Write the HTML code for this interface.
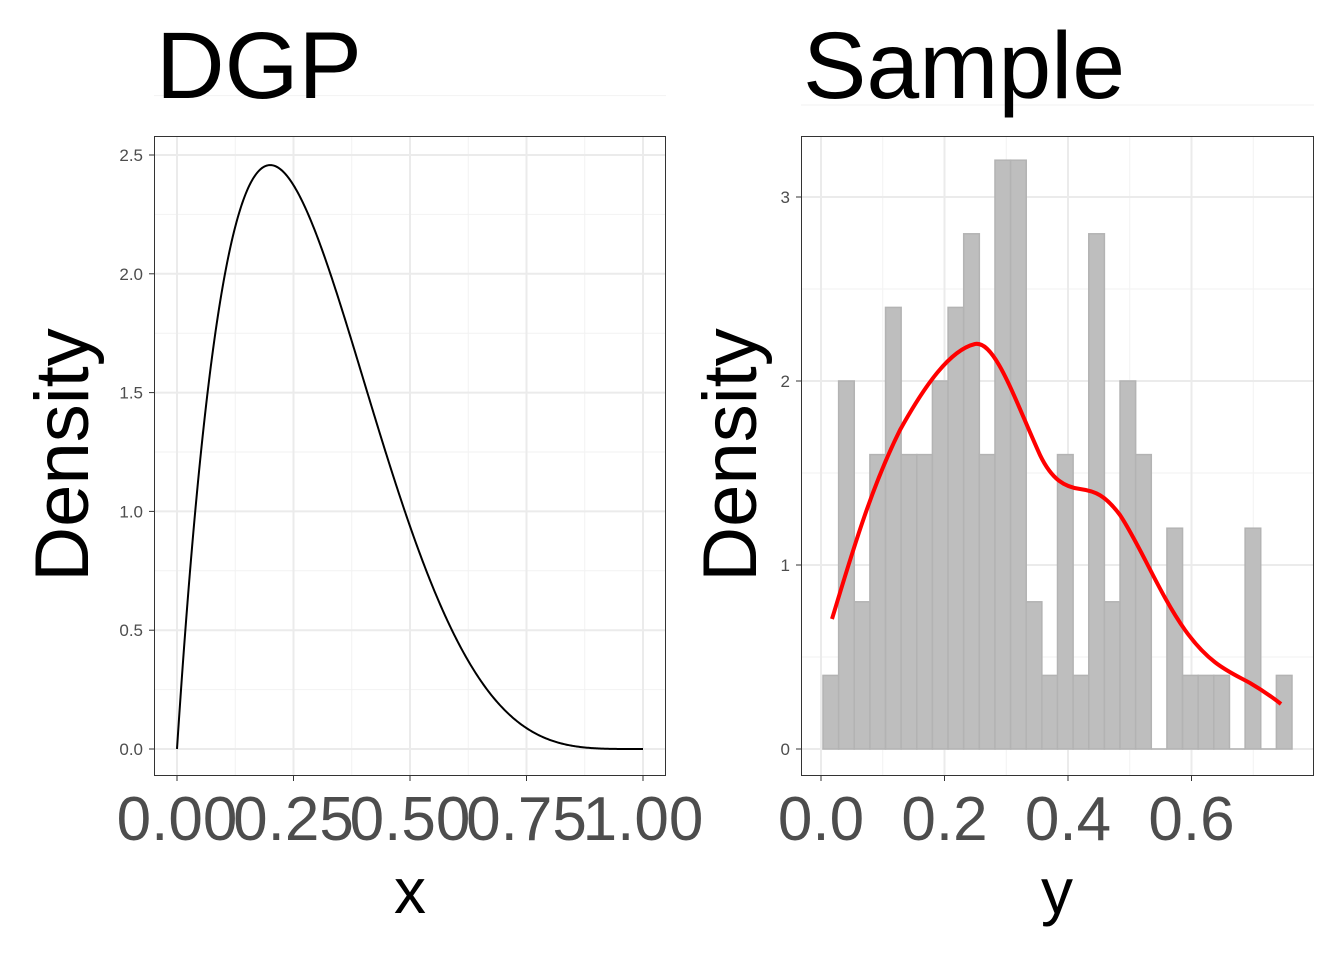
<!DOCTYPE html>
<html><head><meta charset="utf-8"><style>
body{margin:0;background:#fff}
svg text{font-family:"Liberation Sans",sans-serif}
</style></head><body>
<svg id="s" width="1344" height="960" xmlns="http://www.w3.org/2000/svg">
<rect width="1344" height="960" fill="#fff"/>
<g id="g"></g>
<text x="156" y="98" font-size="95">DGP</text>
<text x="803" y="98" font-size="95">Sample</text>
<text transform="translate(88,455) rotate(-90)" font-size="76" text-anchor="middle">Density</text>
<text transform="translate(756,455) rotate(-90)" font-size="76" text-anchor="middle">Density</text>
<text x="410" y="913" font-size="64" text-anchor="middle">x</text>
<text x="1057" y="913" font-size="64" text-anchor="middle">y</text>
</svg>
<script>
var g=document.getElementById('g'),h='';
function L(x1,y1,x2,y2,c,w){h+='<line x1="'+x1+'" y1="'+y1+'" x2="'+x2+'" y2="'+y2+'" stroke="'+c+'" stroke-width="'+w+'"/>';}
function T(x,y,s,fs,a){h+='<text x="'+x+'" y="'+y+'" font-size="'+fs+'" fill="#4d4d4d" text-anchor="'+a+'">'+s+'</text>';}
var lx=function(v){return 177+v*466}, ly=function(v){return 749-v*237.6};
for(var i=0;i<4;i++){L(lx(0.125+i*0.25),136,lx(0.125+i*0.25),776,'#f2f2f2',1);}
for(var i=0;i<6;i++){L(154,ly(0.25+i*0.5),666,ly(0.25+i*0.5),'#f2f2f2',1);}
for(var i=0;i<5;i++){L(lx(i*0.25),136,lx(i*0.25),776,'#ebebeb',2);}
for(var i=0;i<6;i++){L(154,ly(i*0.5),666,ly(i*0.5),'#ebebeb',2);
 L(149,ly(i*0.5),154,ly(i*0.5),'#333',1);T(143,ly(i*0.5)+6,(i*0.5).toFixed(1),17,'end');}
var xl=['0.00','0.25','0.50','0.75','1.00'];
for(var i=0;i<5;i++){L(lx(i*0.25),776,lx(i*0.25),781,'#333',1);T(lx(i*0.25),840,xl[i],62,'middle');}
var p='';for(var i=0;i<=400;i++){var x=i/400,d=30*x*Math.pow(1-x,4);p+=(i?'L':'M')+lx(x).toFixed(2)+','+ly(d).toFixed(2);}
h+='<path d="'+p+'" fill="none" stroke="#000" stroke-width="2"/>';
h+='<rect x="154.5" y="136.5" width="511" height="639" fill="none" stroke="#333" stroke-width="1"/>';
var rx=function(v){return 821+v*617.5}, ry=function(v){return 749-v*184};
for(var i=0;i<4;i++){L(rx(0.1+i*0.2),136,rx(0.1+i*0.2),776,'#f2f2f2',1);}
for(var i=0;i<4;i++){L(801,ry(0.5+i),1314,ry(0.5+i),'#f2f2f2',1);}
for(var i=0;i<4;i++){L(rx(i*0.2),136,rx(i*0.2),776,'#ebebeb',2);L(rx(i*0.2),776,rx(i*0.2),781,'#333',1);T(rx(i*0.2),840,(i*0.2).toFixed(1),62,'middle');}
for(var i=0;i<4;i++){L(801,ry(i),1314,ry(i),'#ebebeb',2);L(796,ry(i),801,ry(i),'#333',1);T(790,ry(i)+6,i,17,'end');}
var hs=[0.4,2,0.8,1.6,2.4,1.6,1.6,2,2.4,2.8,1.6,3.2,3.2,0.8,0.4,1.6,0.4,2.8,0.8,2,1.6,0,1.2,0.4,0.4,0.4,0,1.2,0,0.4];
var bw=469/30;
for(var i=0;i<30;i++){var x0=823+i*bw;if(hs[i]>0)h+='<rect x="'+x0.toFixed(2)+'" y="'+ry(hs[i]).toFixed(2)+'" width="'+bw.toFixed(2)+'" height="'+(hs[i]*184).toFixed(2)+'" fill="#bebebe" stroke="#b3b3b3" stroke-width="1.5"/>';else L(x0,749,x0+bw,749,'#b3b3b3',1.5);}
h+='<path d="M832,619 C850,560 870,490 900,430 C925,385 950,350 975,344 C995,340 1015,400 1040,455 C1052,480 1065,487 1080,489 C1095,491 1105,495 1120,515 C1140,545 1160,595 1185,630 C1210,665 1230,672 1250,683 C1262,690 1272,697 1281,704" fill="none" stroke="#ff0000" stroke-width="4"/>';
h+='<rect x="801.5" y="136.5" width="512" height="639" fill="none" stroke="#333" stroke-width="1"/>';
g.innerHTML=h;
</script>
</body></html>
